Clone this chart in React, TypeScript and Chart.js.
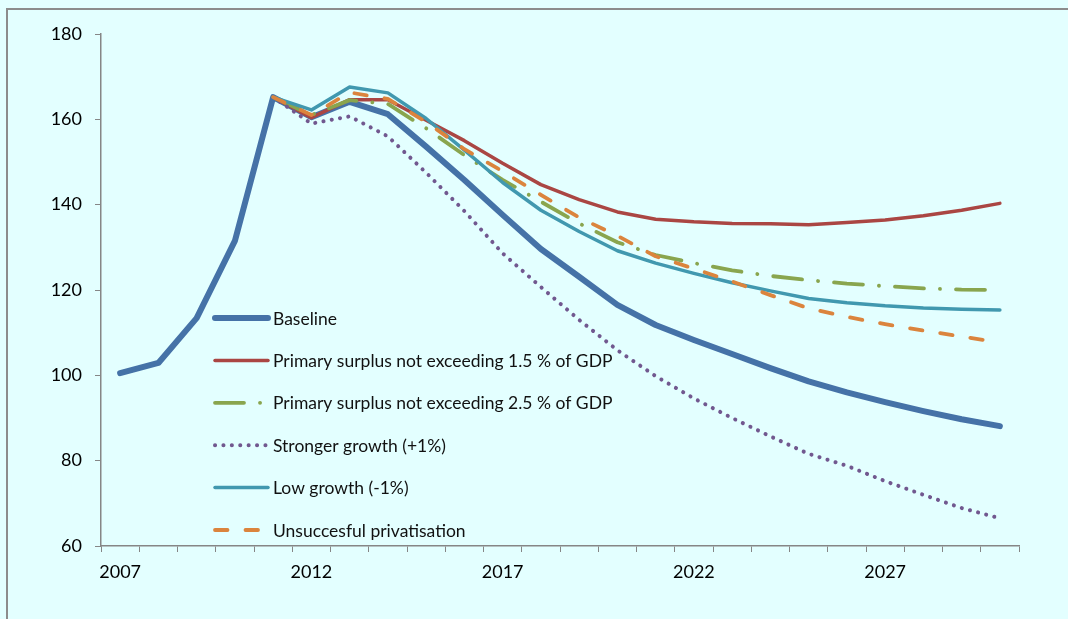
import React, { useEffect, useRef } from "react";
import { Chart, registerables } from "chart.js";

Chart.register(...registerables);

const years = [
  "2007", "2008", "2009", "2010", "2011", "2012", "2013", "2014", "2015", "2016", "2017", "2018",
  "2019", "2020", "2021", "2022", "2023", "2024", "2025", "2026", "2027", "2028", "2029", "2030",
];
const shownYears = ["2007", "2012", "2017", "2022", "2027"];
const yTicks = [60, 80, 100, 120, 140, 160, 180];

const baseline = [100.5, 102.9, 113.4, 131.5, 165.2, 160.5, 164.1, 161.2, 153.6, 145.8, 137.6, 129.6, 123.1, 116.5, 111.8, 108.3, 105, 101.7, 98.6, 96, 93.7, 91.6, 89.7, 88.1];
const surplus15 = [null, null, null, null, 165.2, 160.4, 164.6, 164.6, 159.8, 155, 149.7, 144.7, 141.2, 138.3, 136.6, 136, 135.6, 135.5, 135.3, 135.8, 136.4, 137.4, 138.7, 140.3];
const surplus25 = [null, null, null, null, 165.2, 161, 164.5, 163.6, 157.9, 151.6, 145.8, 140.7, 135.6, 131.2, 128.2, 126.3, 124.6, 123.3, 122.3, 121.5, 120.9, 120.4, 120.1, 120];
const strongerGrowth = [null, null, null, null, 165.2, 159, 160.7, 156, 147.5, 138.5, 128.6, 120.7, 113, 105.9, 99.8, 94.6, 90, 85.7, 81.6, 78.8, 75.2, 72, 68.9, 66.5];
const lowGrowth = [null, null, null, null, 165.2, 162.2, 167.6, 166.2, 160.2, 152.8, 145.2, 138.7, 133.7, 129.2, 126.3, 123.9, 121.7, 119.8, 118, 117, 116.3, 115.8, 115.5, 115.3];
const privatisation = [null, null, null, null, 165.2, 161, 166.3, 164.8, 159.4, 153, 147.8, 142.3, 137, 132.7, 127.9, 125, 122, 118.8, 115.7, 113.7, 112, 110.5, 109.1, 107.7];

const seriesNames = [
  "Baseline",
  "Primary surplus not exceeding 1.5 % of GDP",
  "Primary surplus not exceeding 2.5 % of GDP",
  "Stronger growth (+1%)",
  "Low growth (-1%)",
  "Unsuccesful privatisation",
];

const FONT = "Lato, 'Open Sans', sans-serif";

const insideLegend = {
  id: "insideLegend",
  afterDatasetsDraw(chart: any) {
    const ctx = chart.ctx;
    const x0 = 215;
    const x1 = 268;
    const y0 = 318;
    const dy = 42.4;
    ctx.save();
    chart.data.datasets.forEach((ds: any, i: number) => {
      const y = y0 + i * dy;
      ctx.beginPath();
      ctx.setLineDash(ds.borderDash || []);
      ctx.lineCap = ds.borderCapStyle || "butt";
      ctx.lineWidth = ds.borderWidth;
      ctx.strokeStyle = ds.borderColor;
      ctx.moveTo(x0, y);
      ctx.lineTo(x1, y);
      ctx.stroke();
      ctx.setLineDash([]);
      ctx.fillStyle = "#111";
      ctx.font = `17.5px ${FONT}`;
      ctx.textBaseline = "middle";
      ctx.textAlign = "left";
      ctx.fillText(ds.label, 273, y + 1);
    });
    ctx.restore();
  },
};

export default function App() {
  const ref = useRef<HTMLCanvasElement | null>(null);

  useEffect(() => {
    if (!ref.current) return;
    Chart.defaults.font.family = FONT;
    const chart = new Chart(ref.current, {
      type: "line",
      data: {
        labels: years,
        datasets: [
          {
            label: seriesNames[0],
            data: baseline,
            borderColor: "#4572A7",
            borderWidth: 6,
            borderCapStyle: "round",
            borderJoinStyle: "round",
            order: 6,
          },
          {
            label: seriesNames[1],
            data: surplus15,
            borderColor: "#AA4643",
            borderWidth: 3.5,
            borderCapStyle: "round",
            borderJoinStyle: "round",
            order: 5,
          },
          {
            label: seriesNames[2],
            data: surplus25,
            borderColor: "#89A54E",
            borderWidth: 3.8,
            borderDash: [29, 16, 0.1, 16],
            borderCapStyle: "round",
            borderJoinStyle: "round",
            order: 4,
          },
          {
            label: seriesNames[3],
            data: strongerGrowth,
            borderColor: "#71588F",
            borderWidth: 4,
            borderDash: [0.1, 8.3],
            borderCapStyle: "round",
            borderJoinStyle: "round",
            order: 3,
          },
          {
            label: seriesNames[4],
            data: lowGrowth,
            borderColor: "#4198AF",
            borderWidth: 3.5,
            borderCapStyle: "round",
            borderJoinStyle: "round",
            order: 2,
          },
          {
            label: seriesNames[5],
            data: privatisation,
            borderColor: "#DB843D",
            borderWidth: 3.8,
            borderDash: [12.5, 18],
            borderCapStyle: "round",
            borderJoinStyle: "round",
            order: 1,
          },
        ] as any,
      },
      options: {
        animation: false,
        responsive: false,
        maintainAspectRatio: false,
        elements: { point: { radius: 0, hoverRadius: 0 }, line: { tension: 0 } },
        layout: { padding: { left: 0, right: 49, top: 34, bottom: 0 } },
        plugins: { legend: { display: false }, tooltip: { enabled: false } },
        scales: {
          x: {
            type: "category",
            offset: true,
            grid: {
              offset: true,
              drawOnChartArea: false,
              drawTicks: true,
              tickLength: 6,
              color: "#868686",
            },
            border: { display: true, color: "#868686", width: 1.5 },
            ticks: {
              autoSkip: false,
              maxRotation: 0,
              minRotation: 0,
              padding: 9,
              color: "#000",
              font: { size: 18, family: FONT },
              callback: function (this: any, value: any) {
                const lab = this.getLabelForValue(value);
                return shownYears.includes(lab) ? lab : "";
              },
            },
            afterFit: (scale: any) => {
              scale.height = 73;
            },
          },
          y: {
            min: yTicks[0],
            max: yTicks[yTicks.length - 1],
            grid: {
              drawOnChartArea: false,
              drawTicks: true,
              tickLength: 6,
              color: "#868686",
            },
            border: { display: true, color: "#868686", width: 1.5 },
            afterBuildTicks: (scale: any) => {
              scale.ticks = yTicks.map((v) => ({ value: v }));
            },
            ticks: {
              padding: 13,
              color: "#000",
              font: { size: 18, family: FONT },
            },
            afterFit: (scale: any) => {
              scale.width = 101;
            },
          },
        },
      },
      plugins: [insideLegend],
    });
    return () => chart.destroy();
  }, []);

  return (
    <div
      style={{
        position: "fixed",
        left: 0,
        top: 0,
        width: 1068,
        height: 619,
        background: "#E3FFFF",
        overflow: "hidden",
      }}
    >
      <div
        style={{
          position: "absolute",
          left: 6,
          top: 8,
          width: 1200,
          height: 800,
          borderTop: "2px solid #8C8C8C",
          borderLeft: "2px solid #8C8C8C",
        }}
      />
      <canvas
        ref={ref}
        width={1068}
        height={619}
        style={{ position: "absolute", left: 0, top: 0, width: 1068, height: 619 }}
      />
    </div>
  );
}
